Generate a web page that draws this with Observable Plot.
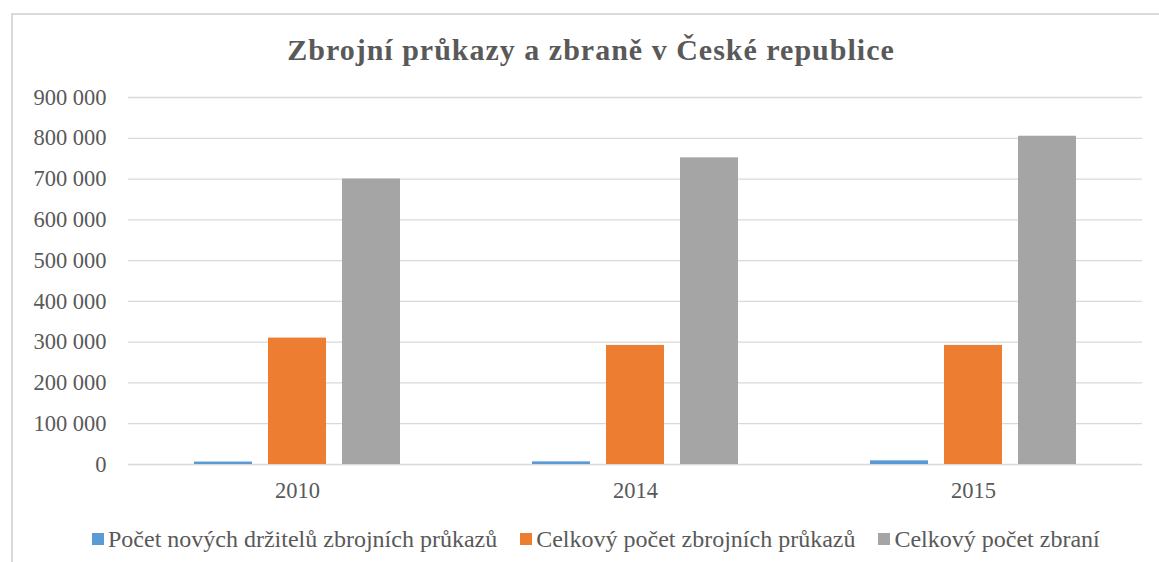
<!DOCTYPE html>
<html>
<head>
<meta charset="utf-8">
<script src="https://cdn.jsdelivr.net/npm/d3@7"></script>
<script src="https://cdn.jsdelivr.net/npm/@observablehq/plot@0.6"></script>
<style>
  html, body { margin: 0; padding: 0; background: #fff; }
  body { width: 1159px; height: 562px; position: relative; overflow: hidden; font-family: "Liberation Serif", "Times New Roman", serif; color: #595959; }
  #frame { position: absolute; left: 11px; top: 13px; width: 1200px; height: 600px; border-left: 2px solid #d9d9d9; border-top: 2px solid #d9d9d9; }
  #title { position: absolute; left: 0; width: 1182px; top: 30px; text-align: center; font-weight: bold; font-size: 30px; letter-spacing: 1px; line-height: 40px; color: #595959; }
  #chart { position: absolute; left: 0; top: 0; }
  #legend { position: absolute; left: 92px; top: 526px; font-size: 24px; line-height: 26px; white-space: nowrap; display: flex; align-items: center; }
  .item { display: flex; align-items: center; margin-right: 23px; }
  .sw { width: 12px; height: 12px; margin-right: 4px; }
</style>
</head>
<body>
<div id="frame"></div>
<div id="title">Zbrojní průkazy a zbraně v České republice</div>
<div id="chart"></div>
<div id="legend"></div>
<script>
const years = ["2010", "2014", "2015"];
const series = ["Počet nových držitelů zbrojních průkazů", "Celkový počet zbrojních průkazů", "Celkový počet zbraní"];
const newHolders = [6000, 6500, 9000];
const totalLicences = [310000, 292000, 292000];
const totalGuns = [700000, 752000, 805000];
const colors = ["#5b9bd5", "#ed7d31", "#a5a5a5"];
const yTicks = [0, 100000, 200000, 300000, 400000, 500000, 600000, 700000, 800000, 900000];

const valuesBySeries = [newHolders, totalLicences, totalGuns];
const data = [];
years.forEach((year, i) => {
  series.forEach((s, j) => data.push({year, series: s, value: valuesBySeries[j][i]}));
});

const fmt = d => d3.format(",")(d).replace(/,/g, " ");

const chart = Plot.plot({
  width: 1159,
  height: 520,
  marginTop: 97,
  marginBottom: 56,
  marginLeft: 127,
  marginRight: 16,
  style: { fontFamily: '"Liberation Serif", "Times New Roman", serif', fontSize: "22.5px", color: "#595959", background: "transparent", overflow: "visible" },
  fx: { domain: years, paddingInner: 0.385, paddingOuter: 0.1925, label: null },
  x: { domain: series, paddingInner: 0.213, paddingOuter: 0, axis: null },
  y: { domain: [0, 900000], label: null },
  color: { domain: series, range: colors },
  marks: [
    Plot.ruleY(yTicks, { stroke: "#d9d9d9", strokeWidth: 1.3, insetLeft: -65, insetRight: -65 }),
    Plot.barY(data, { fx: "year", x: "series", y: "value", fill: "series" }),
    Plot.axisY({ ticks: yTicks, tickFormat: fmt, tickSize: 0, tickPadding: 87, label: null }),
    Plot.axisFx({ anchor: "bottom", tickSize: 0, tickPadding: 18, label: null })
  ]
});
document.getElementById("chart").appendChild(chart);

const legend = document.getElementById("legend");
series.forEach((s, i) => {
  const item = document.createElement("div");
  item.className = "item";
  const sw = document.createElement("div");
  sw.className = "sw";
  sw.style.background = colors[i];
  const t = document.createElement("span");
  t.textContent = s;
  item.appendChild(sw);
  item.appendChild(t);
  legend.appendChild(item);
});
</script>
</body>
</html>
